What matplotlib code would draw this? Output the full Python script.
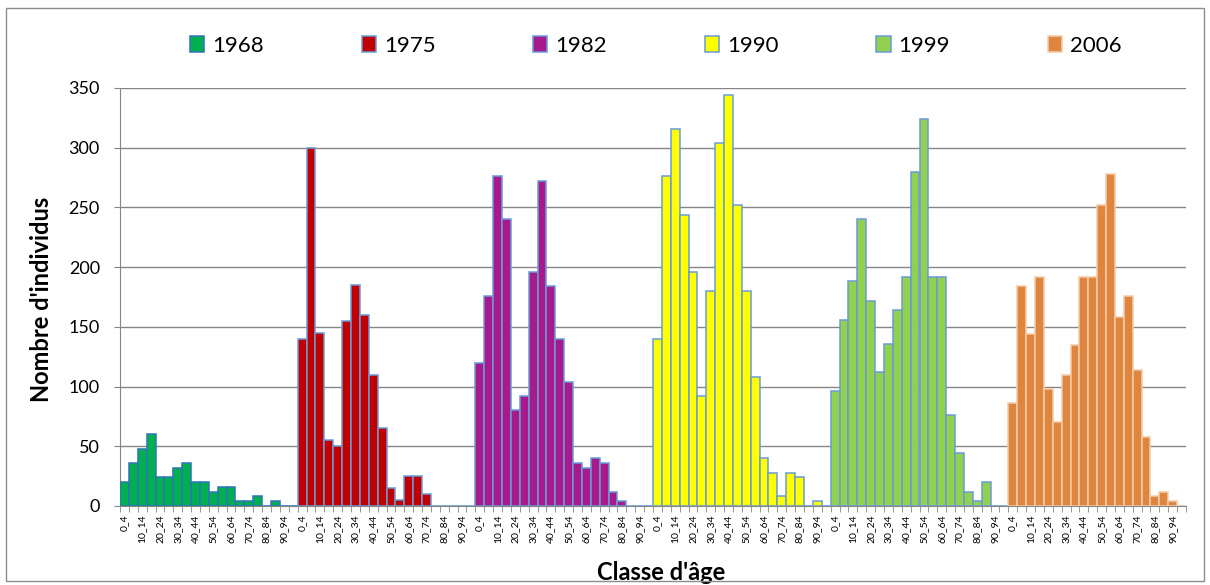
import matplotlib
matplotlib.use("Agg")
import matplotlib.pyplot as plt
import matplotlib.patches as patches
import numpy as np

plt.rcParams["font.family"] = ["Lato", "DejaVu Sans"]

AGE_CLASSES = [f"{a}_{a + 4}" for a in range(0, 100, 5)]
YEARS = ["1968", "1975", "1982", "1990", "1999", "2006"]

V1968 = [20, 36, 48, 60, 24, 24, 32, 36, 20, 20, 12, 16, 16, 4, 4, 8, 0, 4, 0, 0]
V1975 = [140, 300, 145, 55, 50, 155, 185, 160, 110, 65, 15, 5, 25, 25, 10, 0, 0, 0, 0, 0]
V1982 = [120, 176, 276, 240, 80, 92, 196, 272, 184, 140, 104, 36, 32, 40, 36, 12, 4, 0, 0, 0]
V1990 = [140, 276, 316, 244, 196, 92, 180, 304, 344, 252, 180, 108, 40, 28, 8, 28, 24, 0, 4, 0]
V1999 = [96, 156, 188, 240, 172, 112, 136, 164, 192, 280, 324, 192, 192, 76, 44, 12, 4, 20, 0, 0]
V2006 = [86, 184, 144, 192, 98, 70, 110, 135, 192, 192, 252, 278, 158, 176, 114, 58, 8, 12, 4, 0]
SERIES = [V1968, V1975, V1982, V1990, V1999, V2006]

FILL = ["#00B050", "#C00000", "#A8198C", "#FFFF00", "#92D050", "#DE8640"]
EDGE = ["#2E75B6", "#6A9BD8", "#6A9BD8", "#6A9BD8", "#6A9BD8", "#F5CBA7"]

fig = plt.figure(figsize=(12.1, 5.85), dpi=100)
fig.patches.append(patches.Rectangle(
    (6 / 1210, 4 / 585), 1198 / 1210, 573 / 585, transform=fig.transFigure,
    fill=False, edgecolor="#8C8C8C", linewidth=1.0,
))

ax = fig.add_axes([120 / 1210, 79 / 585, 1066 / 1210, 418 / 585])

n = len(AGE_CLASSES)
handles = []
for g, (year, vals) in enumerate(zip(YEARS, SERIES)):
    x = np.arange(n) + g * n
    bars = ax.bar(x, vals, width=1.0, color=FILL[g], edgecolor=EDGE[g],
                  linewidth=1.1, label=year, zorder=3)
    handles.append(bars)

ax.set_xlim(-0.5, len(YEARS) * n - 0.5)
ax.set_ylim(0, 350)
ax.set_yticks(np.arange(0, 351, 50))
ax.tick_params(axis="y", labelsize=13, length=4.5, color="#868686", pad=10)

major = [g * n + i for g in range(len(YEARS)) for i in range(0, n, 2)]
ax.set_xticks(major)
ax.set_xticklabels([AGE_CLASSES[i % n] for i in major], rotation=90, fontsize=7.5)
ax.tick_params(axis="x", length=0, pad=6)
ax.set_xticks(np.arange(-0.5, len(YEARS) * n, 1), minor=True)
ax.tick_params(axis="x", which="minor", length=4, color="#868686")

ax.grid(axis="y", color="#868686", linewidth=1.0, zorder=0)
ax.set_axisbelow(True)
for side in ["top", "right"]:
    ax.spines[side].set_visible(False)
for side in ["left", "bottom"]:
    ax.spines[side].set_color("#868686")

ax.set_ylabel("Nombre d'individus", fontsize=17, fontweight="bold")
ax.yaxis.set_label_coords(-0.063, 0.495)
ax.set_xlabel("Classe d'âge", fontsize=17, fontweight="bold")
ax.xaxis.set_label_coords(0.508, -0.132)

fig.legend(handles=handles, loc="center", ncol=6, bbox_to_anchor=(0.542, 0.921),
           frameon=False, fontsize=16, handlelength=0.64, handleheight=0.73,
           handletextpad=0.36, columnspacing=4.4)

fig.savefig("out.png", dpi=100)
